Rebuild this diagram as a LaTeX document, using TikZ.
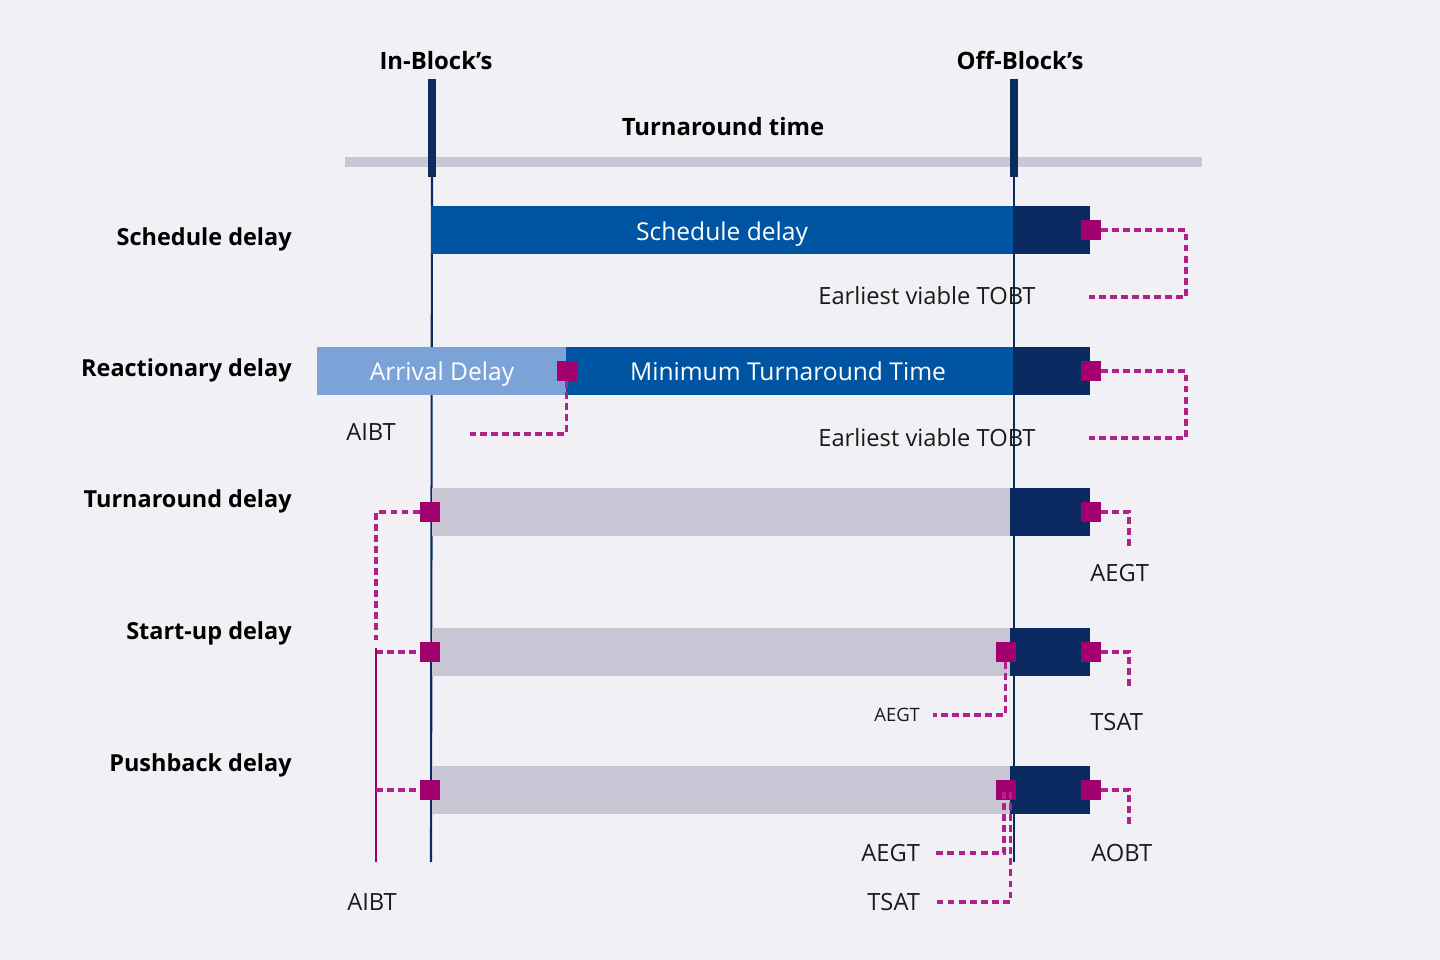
\documentclass[tikz,border=0pt]{standalone}
\usepackage{fontspec}
\setmainfont{Open Sans}
\definecolor{bgc}{HTML}{F1F1F5}
\definecolor{topbar}{HTML}{C9C6D6}
\definecolor{graybar}{HTML}{C8C6D5}
\definecolor{bluebar}{HTML}{0055A2}
\definecolor{navy}{HTML}{0C2A62}
\definecolor{lightblue}{HTML}{7CA3D8}
\definecolor{mag}{HTML}{A3006F}
\definecolor{magline}{HTML}{B0228A}
\definecolor{vline}{HTML}{0D2A5E}
\definecolor{txt}{HTML}{1A1A1A}
\begin{document}
\begin{tikzpicture}[x=0.02cm,y=-0.02cm,
  sq/.style={fill=mag, minimum size=0.4cm, inner sep=0pt, outer sep=0pt},
  mdash/.style={draw=magline, line width=1.8pt, dash pattern=on 3.9pt off 2.4pt},
  lab/.style={font=\fontsize{13.5}{16}\selectfont, text=txt, inner sep=0pt},
  smalllab/.style={font=\fontsize{10.5}{12}\selectfont, text=txt, inner sep=0pt},
  rowlab/.style={font=\fontsize{13.35}{16}\selectfont\bfseries, text=black, inner sep=0pt, anchor=base east},
  titlelab/.style={font=\fontsize{13.6}{16}\selectfont\bfseries, text=black, inner sep=0pt, anchor=base},
  wtxt/.style={font=\fontsize{14}{16}\selectfont, text=white, inner sep=0pt, anchor=base},
  thinline/.style={draw=vline, line width=1.2pt},
  thickline/.style={draw=vline, line width=4.4pt}
]
\useasboundingbox (0,0) rectangle (1440,960);
\fill[bgc] (0,0) rectangle (1440,960);

% header
\fill[topbar] (345,157) rectangle (1202,167);
\node[titlelab] (inb) at (436,69) {In-Block’s};
\node[titlelab] (offb) at (1020,69) {Off-Block’s};
\node[titlelab] (tat) at (723,135) {Turnaround time};

% vertical lines
\coordinate (inTop) at (432,79);
\coordinate (inMid) at (432,177);
\coordinate (inBot) at (431,862);
\coordinate (offTop) at (1014,79);
\coordinate (offMid) at (1014,177);
\coordinate (offBot) at (1014,862);
\draw[thinline] (inMid) -- (inBot);
\draw[thinline] (offMid) -- (offBot);
\draw[thickline] (inTop) -- (inMid);
\draw[thickline] (offTop) -- (offMid);

% row labels
\node[rowlab] (r1) at (292,245) {Schedule delay};
\node[rowlab] (r2) at (292,376) {Reactionary delay};
\node[rowlab] (r3) at (292,507) {Turnaround delay};
\node[rowlab] (r4) at (292,639) {Start-up delay};
\node[rowlab] (r5) at (292,771) {Pushback delay};

% row 1
\fill[bluebar] (431,206) rectangle (1013,254);
\fill[navy] (1013,206) rectangle (1090,254);
\node[wtxt] (b1) at (722,240) {Schedule delay};
\node[lab, anchor=base west] (e1) at (818,304) {Earliest viable TOBT};
\node[sq] (s1r) at (1091,230) {};
\coordinate (c1a) at (1186,230);
\coordinate (c1b) at (1186,297);
\coordinate (c1c) at (1089,297);
\draw[mdash] (s1r.east) -- (c1a) -- (c1b) -- (c1c);

% row 2
\fill[lightblue] (317,347) rectangle (566,395);
\fill[bluebar] (566,347) rectangle (1013,395);
\fill[navy] (1013,347) rectangle (1090,395);
\node[wtxt] (b2a) at (442,380) {Arrival Delay};
\node[wtxt] (b2b) at (788,380) {Minimum Turnaround Time};
\node[lab, anchor=base west] (a2) at (346,440) {AIBT};
\node[lab, anchor=base west] (e2) at (818,446) {Earliest viable TOBT};
\node[sq] (s2l) at (566.5,371) {};
\node[sq] (s2r) at (1091,371) {};
\coordinate (c2a) at (566.5,434);
\coordinate (c2b) at (470,434);
\draw[mdash] (s2l.south) -- (c2a) -- (c2b);
\coordinate (c2d) at (1186,371);
\coordinate (c2e) at (1186,438);
\coordinate (c2f) at (1089,438);
\draw[mdash] (s2r.east) -- (c2d) -- (c2e) -- (c2f);

% row 3
\fill[graybar] (432,488) rectangle (1010,536);
\fill[navy] (1010,488) rectangle (1090,536);
\node[sq] (s3l) at (429.5,512) {};
\node[sq] (s3r) at (1091,512) {};
\node[lab, anchor=base west] (g3) at (1090,581) {AEGT};
\coordinate (c3a) at (1129,512);
\coordinate (c3b) at (1129,547);
\draw[mdash] (s3r.east) -- (c3a) -- (c3b);
\coordinate (c3c) at (376,512);
\coordinate (c3d) at (376,640);
\draw[mdash] (s3l.west) -- (c3c) -- (c3d);

% row 4
\fill[graybar] (432,628) rectangle (1010,676);
\fill[navy] (1010,628) rectangle (1090,676);
\node[sq] (s4l) at (429.5,652) {};
\node[sq] (s4m) at (1005.5,652) {};
\node[sq] (s4r) at (1091,652) {};
\node[lab, anchor=base west] (t4) at (1090,730) {TSAT};
\node[smalllab, anchor=base west] (g4) at (874,721) {AEGT};
\coordinate (c4a) at (1129,652);
\coordinate (c4b) at (1129,687);
\draw[mdash] (s4r.east) -- (c4a) -- (c4b);
\coordinate (c4c) at (1005.5,715);
\coordinate (c4d) at (933,715);
\draw[mdash] (s4m.south) -- (c4c) -- (c4d);
\coordinate (c4e) at (376,652);
\draw[mdash] (c4e) -- (s4l.west);
\coordinate (solTop) at (376,648);
\coordinate (solBot) at (376,862);
\draw[draw=mag, line width=1.6pt] (solTop) -- (solBot);

% row 5
\fill[graybar] (432,766) rectangle (1010,814);
\fill[navy] (1010,766) rectangle (1090,814);
\node[sq] (s5l) at (429.5,790) {};
\node[sq] (s5m) at (1005.5,790) {};
\node[sq] (s5r) at (1091,790) {};
\node[lab, anchor=base west] (o5) at (1091,861) {AOBT};
\node[lab, anchor=base west] (g5) at (861,861) {AEGT};
\node[lab, anchor=base west] (t5) at (867,910) {TSAT};
\node[lab, anchor=base west] (a5) at (347,910) {AIBT};
\coordinate (c5a) at (1129,790);
\coordinate (c5b) at (1129,826);
\draw[mdash] (s5r.east) -- (c5a) -- (c5b);
\coordinate (c5c) at (1004,792);
\coordinate (c5d) at (1004,853);
\coordinate (c5e) at (934,853);
\draw[mdash] (c5c) -- (c5d) -- (c5e);
\coordinate (c5f) at (1010.5,792);
\coordinate (c5g) at (1010.5,902);
\coordinate (c5h) at (937,902);
\draw[mdash] (c5f) -- (c5g) -- (c5h);
\coordinate (c5i) at (376,790);
\draw[mdash] (c5i) -- (s5l.west);
\end{tikzpicture}
\end{document}
